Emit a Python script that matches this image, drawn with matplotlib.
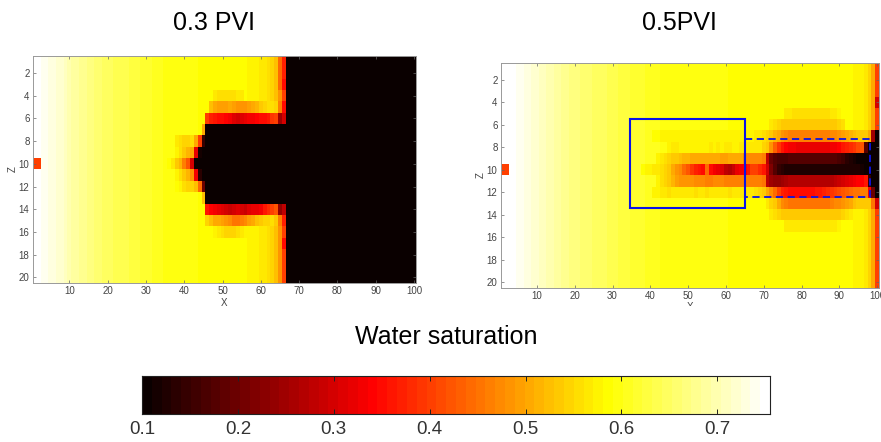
import numpy as np
import matplotlib
matplotlib.use('Agg')
import matplotlib.pyplot as plt
from matplotlib.patches import Rectangle

plt.rcParams['font.family'] = ['Liberation Sans', 'DejaVu Sans']

W, H = 881, 442

# column profile of water saturation (x = 1..100), rows without a patch use this
left_base = [.75, .75, .74, .74, .73, .73, .72, .72, .71, .70,
             .69, .69, .68, .68, .67, .67, .66, .66, .65, .65,
             .645, .64, .64, .635, .635, .63, .63, .625, .62, .62,
             .615, .61, .61, .605, .60, .60, .60, .60, .60, .60,
             .595, .595, .595, .59, .59, .59, .59, .59, .588, .588,
             .588, .588, .588, .588, .585, .585, .58, .58, .575, .57,
             .565, .555, .545, .52, .48, .40, .10, .10, .10, .10,
             .10, .10, .10, .10, .10, .10, .10, .10, .10, .10,
             .10, .10, .10, .10, .10, .10, .10, .10, .10, .10,
             .10, .10, .10, .10, .10, .10, .10, .10, .10, .10]

# row -> (first column, values) for the finger around x = 45..66
left_black = [.10] * 21
left_patches = {
    1: (65, [.44, .37]),
    2: (65, [.44, .37]),
    3: (65, [.44, .35]),
    4: (48, [.57, .56, .56, .56, .56, .56, .57, .57]),
    5: (47, [.52, .50, .49, .49, .49, .50, .49, .48, .48, .48, .49, .50, .51, .53, .55,
             .56, .56, .55, .46, .35]),
    6: (46, [.40, .37, .36, .35, .35, .34, .33, .31, .30, .31, .32, .33, .33, .34, .35,
             .35, .36, .39, .40, .25, .30]),
    7: (45, [.50] + left_black),
    8: (38, [.57, .56, .55, .55, .56, .50, .40, .15] + left_black),
    9: (38, [.575, .56, .53, .51, .50, .32, .12, .10] + left_black),
    10: (36, [.585, .57, .54, .51, .46, .42, .30, .11, .10, .10] + left_black),
    11: (38, [.575, .56, .53, .51, .48, .33, .14, .10] + left_black),
    12: (38, [.585, .58, .56, .55, .55, .52, .44, .20] + left_black),
    13: (45, [.52] + left_black),
    14: (46, [.36, .34, .33, .32, .31, .30, .29, .30, .31, .30, .29, .31, .32, .32, .33,
              .36, .38, .40, .42, .24, .28]),
    15: (46, [.55, .52, .50, .50, .49, .48, .47, .45, .45, .46, .47, .49, .50, .52, .53,
              .55, .55, .56, .53, .46, .37]),
    16: (48, [.575, .57, .56, .55, .55, .55, .56, .57, .575]),
    17: (66, [.35]),
}

right_base = [.75, .75, .75, .75, .74, .74, .73, .73, .72, .72,
              .71, .71, .70, .70, .69, .69, .68, .68, .67, .67,
              .665, .66, .66, .655, .65, .65, .645, .645, .64, .64,
              .635, .63, .63, .625, .62, .62, .615, .615, .61, .61,
              .605, .605, .60, .60, .60, .60, .60, .60, .60, .60,
              .595, .595, .595, .595, .595, .595, .595, .595, .595, .595,
              .59, .59, .59, .59, .59, .59, .59, .59, .59, .59,
              .59, .59, .59, .59, .588, .588, .588, .588, .588, .588,
              .588, .588, .588, .588, .588, .588, .588, .588, .588, .585,
              .585, .585, .585, .58, .58, .575, .565, .55, .50, .40]

right_patches = {
    4: (100, [.30]),
    5: (76, [.57, .565, .56, .56, .56, .56, .56, .56, .56, .56, .56, .56, .57, .57, .575]),
    6: (72, [.57, .56, .55, .54, .53, .53, .53, .53, .53, .53, .53, .53, .53, .53, .53,
             .53, .54, .54, .55, .56]),
    7: (41, [.585, .585, .58, .58, .58, .58, .58, .58, .58, .58, .58, .58, .58, .58, .58,
             .58, .58, .58, .58, .58, .58, .58, .58, .58, .58, .58, .58, .57, .57, .56,
             .55, .54, .51, .50, .48, .47, .46, .46, .46, .46, .46, .46, .46, .46, .46,
             .46, .46, .47, .47, .48, .49, .50, .51, .52, .53, .54, .54, .50, .25, .10]),
    8: (45, [.575, .57, .57, .575, .58, .58, .58, .575, .575, .58, .575, .57, .575, .57, .575,
             .57, .57, .575, .575, .57, .57, .57, .57, .57, .57, .55, .53, .48, .43, .39,
             .36, .34, .33, .33, .32, .32, .32, .32, .32, .32, .32, .32, .32, .33, .33,
             .34, .36, .37, .38, .39, .41, .42, .18, .10, .10, .10]),
    9: (42, [.575, .565, .56, .55, .54, .53, .52, .51, .51, .50, .50, .50, .50, .50, .50,
             .50, .50, .49, .49, .50, .50, .50, .50, .47, .47, .47, .47, .47, .46, .28,
             .20, .18, .17, .17, .17, .18, .18, .18, .18, .18, .18, .18, .18, .18, .18,
             .18, .18, .18, .17, .16, .14, .13, .12, .11, .10, .10, .10, .10, .10]),
    10: (38, [.585, .58, .58, .57, .57, .56, .55, .53, .50, .48, .47, .44, .42, .39, .37,
              .36, .35, .44, .35, .33, .32, .31, .28, .27, .29, .32, .33, .34, .36, .40,
              .40, .38, .36, .30, .22, .18, .15, .14, .13, .13, .13, .13, .13, .13, .13,
              .13, .13, .13, .13, .13, .13, .13, .13, .13, .13, .13, .13, .13, .12, .11,
              .10, .10, .10]),
    11: (42, [.575, .56, .55, .53, .51, .49, .48, .48, .48, .48, .47, .47, .47, .46, .46,
              .47, .47, .47, .46, .46, .46, .46, .46, .46, .46, .46, .46, .46, .45, .28,
              .25, .24, .24, .25, .26, .27, .27, .27, .27, .27, .27, .27, .27, .27, .27,
              .27, .27, .28, .29, .30, .31, .32, .33, .34, .34, .36, .15, .10, .10]),
    12: (41, [.58, .575, .57, .565, .56, .565, .565, .57, .57, .565, .565, .56, .565, .565, .56,
              .565, .57, .565, .565, .565, .56, .565, .565, .565, .57, .57, .57, .56, .55, .53,
              .50, .47, .44, .40, .37, .36, .35, .35, .35, .35, .35, .35, .35, .36, .36,
              .37, .38, .39, .40, .41, .42, .43, .44, .45, .45, .46, .46, .33, .20, .10]),
    13: (71, [.57, .55, .53, .50, .47, .46, .45, .45, .45, .45, .45, .45, .45, .45, .45,
              .45, .45, .46, .47, .47, .48, .49, .50, .52, .53, .54, .54, .54, .45, .30]),
    14: (72, [.57, .56, .55, .54, .54, .54, .54, .54, .54, .54, .54, .54, .54, .54, .54,
              .54, .54, .54, .54, .55, .56, .57]),
    15: (76, [.57, .57, .57, .57, .57, .57, .57, .57, .57, .57, .57, .57, .57, .57, .575]),
}

pvi_titles = ['0.3 PVI', '0.5PVI']
x_ticks = [10, 20, 30, 40, 50, 60, 70, 80, 90, 100]
z_ticks = [2, 4, 6, 8, 10, 12, 14, 16, 18, 20]
cbar_ticks = [0.1, 0.2, 0.3, 0.4, 0.5, 0.6, 0.7]
sw_min, sw_max = 0.1, 0.755
well_value = 0.40


def build_grid(base, patches):
    grid = np.tile(np.array(base), (20, 1))
    for row, (col, vals) in patches.items():
        grid[row - 1, col - 1:col - 1 + len(vals)] = vals
    grid[9, 0:2] = well_value
    return grid


def px_axes(x0, y0, x1, y1):
    return fig.add_axes([x0 / W, 1 - y1 / H, (x1 - x0) / W, (y1 - y0) / H])


def draw_panel(ax, grid):
    ax.imshow(grid, cmap=cmap, vmin=sw_min, vmax=sw_max, aspect='auto',
              extent=(0.5, 100.5, 20.5, 0.5), interpolation='nearest')
    ax.set_xticks(x_ticks)
    ax.set_yticks(z_ticks)
    ax.tick_params(direction='in', length=2, width=0.5, color='#666666', labelsize=7,
                   labelcolor='#444444', top=True, right=True, pad=2.5)
    for s in ax.spines.values():
        s.set_color('#999999')
        s.set_linewidth(0.7)


fig = plt.figure(figsize=(W / 100, H / 100), dpi=100)
cmap = plt.get_cmap('hot', 64)

ax1 = px_axes(33, 56, 416, 283)
draw_panel(ax1, build_grid(left_base, left_patches))
ax1.set_xlabel('X', fontsize=7, color='#444444', labelpad=1)
ax1.set_ylabel('Z', fontsize=7, color='#444444', labelpad=1)

ax2 = px_axes(501, 63, 879, 288)
draw_panel(ax2, build_grid(right_base, right_patches))
ax2.set_xlabel('X', fontsize=7, color='#444444', labelpad=0.5)
ax2.set_ylabel('Z', fontsize=7, color='#444444', labelpad=1)

# solid and dashed boxes on the 0.5 PVI panel
ax2.add_patch(Rectangle((34.5, 5.5), 30.5, 7.9, fill=False, edgecolor='#0a14e6', linewidth=1.5))
ax2.add_patch(Rectangle((65, 7.25), 33, 5.15, fill=False, edgecolor='#0a14e6', linewidth=1.3,
                        linestyle=(0, (4, 2.5))))

# the x label of the right panel is cut off in the source image
fig.add_artist(Rectangle((440 / W, 1 - 322 / H), 441 / W, 16 / H, transform=fig.transFigure,
                         facecolor='white', edgecolor='none', zorder=10))

fig.text(214 / W, 1 - 23.5 / H, pvi_titles[0], fontsize=18, ha='center', va='center', color='black')
fig.text(679 / W, 1 - 23.5 / H, pvi_titles[1], fontsize=18, ha='center', va='center', color='black')
fig.text(446 / W, 1 - 337 / H, 'Water saturation', fontsize=18, ha='center', va='center', color='black')

cax = px_axes(142, 376, 770, 414)
gradient = np.linspace(sw_min, sw_max, 64).reshape(1, -1)
cax.imshow(gradient, cmap=cmap, vmin=sw_min, vmax=sw_max, aspect='auto',
           extent=(sw_min, sw_max, 0, 1), interpolation='nearest')
cax.set_yticks([])
cax.set_xticks(cbar_ticks)
cax.set_xticklabels([str(t) for t in cbar_ticks])
cax.tick_params(axis='x', direction='in', length=3.5, width=0.7, color='#222222', top=True,
                labelsize=13.5, labelcolor='#333333', pad=5)
for s in cax.spines.values():
    s.set_color('#222222')
    s.set_linewidth(0.8)

fig.savefig('out.png', dpi=100)
